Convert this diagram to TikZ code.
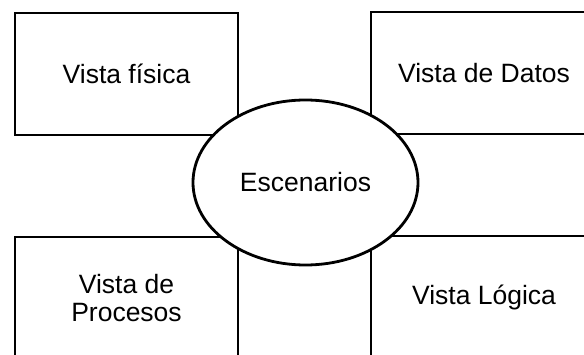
\documentclass[tikz,border=0pt]{standalone}
\usepackage{fontspec}
\setmainfont{Liberation Sans}
\usetikzlibrary{shapes.geometric}
\tikzset{
  viewbox/.style={draw=black, line width=2.8pt, rectangle, inner sep=0pt, align=center,
    font=\fontsize{26.5}{28}\selectfont},
  scenario/.style={draw=black, fill=white, line width=2.8pt, ellipse, inner sep=0pt,
    minimum width=225pt, minimum height=165pt, font=\fontsize{26.5}{28}\selectfont}
}
\begin{document}
\begin{tikzpicture}[x=1pt,y=1pt]
\useasboundingbox (0,0) rectangle (584,354);
\clip (0,0) rectangle (584,354);
\fill[white] (0,0) rectangle (584,354);
\node[viewbox, minimum width=223pt, minimum height=122pt] (fisica) at (126.5,280) {Vista física};
\node[viewbox, minimum width=226pt, minimum height=122pt] (datos) at (484,281) {Vista de Datos};
\node[viewbox, minimum width=223pt, minimum height=122pt] (procesos) at (126.5,56) {Vista de\\Procesos};
\node[viewbox, minimum width=226pt, minimum height=122pt] (logica) at (484,57) {Vista Lógica};
\node[scenario] (esc) at (305.5,171.5) {Escenarios};
\end{tikzpicture}
\end{document}
